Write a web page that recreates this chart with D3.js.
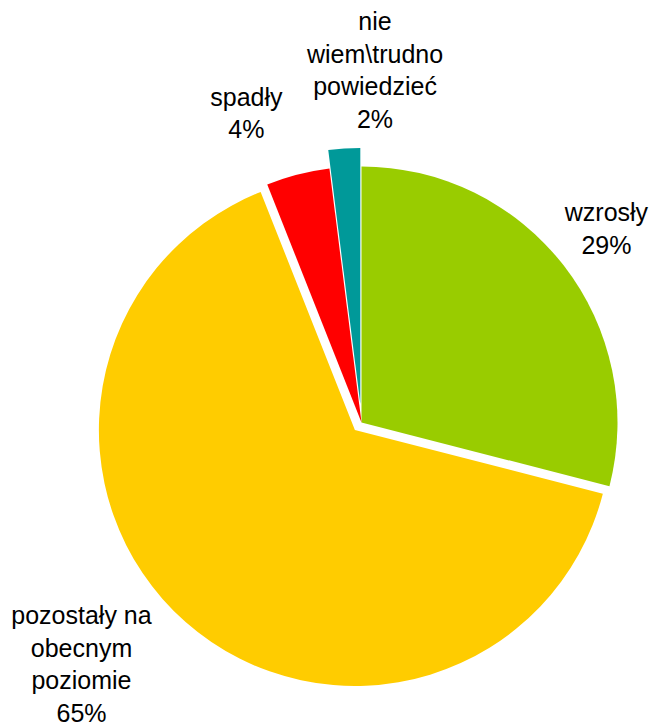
<!DOCTYPE html>
<html>
<head>
    <meta charset="utf-8">
    <title>Pie chart</title>
    <style>
        body {
            margin: 0;
            background: #ffffff;
        }

        svg {
            display: block;
        }

        .slice-label {
            font-family: "Liberation Sans", Arial, sans-serif;
            font-size: 25px;
            fill: #000;
        }
    </style>
    <script src="https://d3js.org/d3.v7.min.js"></script>
</head>
<body>
<div id="chart"></div>
<script>
    // dane z wykresu
    const categories = ["wzrosły", "pozostały na obecnym poziomie", "spadły", "nie wiem\\trudno powiedzieć"];
    const values = [29, 65, 4, 2];
    const labelLines = [
        ["wzrosły"],
        ["pozostały na", "obecnym", "poziomie"],
        ["spadły"],
        ["nie", "wiem\\trudno", "powiedzieć"]
    ];
    const colors = ["#99cc00", "#ffcc00", "#ff0000", "#009999"];

    // układ
    const width = 656, height = 727;
    const cx = 361.5, cy = 422.5, radius = 256;
    const explode = [0, 10, 0, 18.5];
    const labelRadius = 310;
    const labelNudge = [[0, -4], [-75, 9], [-38, -9], [33, -43]];
    const lineHeight = 32.5;
    const fontSize = 25;

    const svg = d3.select("#chart").append("svg")
        .attr("width", width)
        .attr("height", height);

    const g = svg.append("g")
        .attr("transform", `translate(${cx},${cy})`);

    const pie = d3.pie().sort(null).value(d => d);
    const arcs = pie(values);

    const arc = d3.arc().innerRadius(0).outerRadius(radius);
    const labelArc = d3.arc().innerRadius(labelRadius).outerRadius(labelRadius);

    // wycinki
    g.selectAll("path.slice")
        .data(arcs)
        .join("path")
        .attr("class", "slice")
        .attr("fill", (d, i) => colors[i])
        .attr("transform", (d, i) => {
            const mid = (d.startAngle + d.endAngle) / 2;
            return `translate(${Math.sin(mid) * explode[i]},${-Math.cos(mid) * explode[i]})`;
        })
        .attr("d", arc);

    // etykiety
    const labels = g.selectAll("text.slice-label")
        .data(arcs)
        .join("text")
        .attr("class", "slice-label")
        .attr("text-anchor", "middle")
        .each(function (d, i) {
            const c = labelArc.centroid(d);
            const x = c[0] + labelNudge[i][0];
            const y = c[1] + labelNudge[i][1];
            const lines = labelLines[i].concat([d3.format(".0f")(d.value) + "%"]);
            const n = lines.length;
            d3.select(this).selectAll("tspan")
                .data(lines)
                .join("tspan")
                .attr("x", x)
                .attr("y", (t, j) => y + (j - (n - 1) / 2) * lineHeight + fontSize * 0.35)
                .text(t => t);
        });
</script>
</body>
</html>
